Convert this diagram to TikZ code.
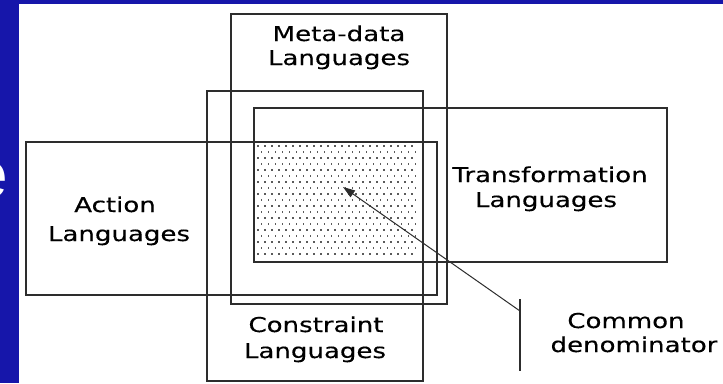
\documentclass[tikz,border=0pt]{standalone}
\usepackage{fontspec}
\usetikzlibrary{arrows.meta}
\newfontfamily\labelfont[FakeStretch=1.27,FakeBold=0.35]{DejaVu Sans}
\newfontfamily\titlefont{Liberation Sans}
\definecolor{slideblue}{RGB}{22,22,170}
\definecolor{edgegray}{RGB}{45,45,45}
\definecolor{dotgray}{RGB}{90,90,90}

\begin{document}
\begin{tikzpicture}[x=1pt,y=-1pt,
  box/.style={draw=edgegray, line width=1.2pt},
  lbl/.style={font=\labelfont\fontsize{20.5}{24}\selectfont, anchor=base, inner sep=0pt, text=black},
  ]
\useasboundingbox (0,0) rectangle (723,383);
% slide background and white panel
\fill[slideblue] (0,0) rectangle (723,383);
\fill[white] (19,4) rectangle (723,383);
\begin{scope}
  \clip (0,0) rectangle (19,383);
  \node[font=\titlefont\fontsize{66}{70}\selectfont, text=white, anchor=base west, inner sep=0pt] (cut) at (-29,197) {e};
\end{scope}

% dotted common region (intersection of all four boxes)
\foreach \r in {0,...,18}{
  \pgfmathsetmacro\yy{146+6*\r}
  \pgfmathsetmacro\xo{258+3.5*mod(\r,2)}
  \foreach \c in {0,...,22}{
    \pgfmathsetmacro\xx{\xo+7*\c}
    \fill[dotgray] (\xx-0.6,\yy-0.6) rectangle ++(1.2,1.2);
  }
}

% the four language boxes
\draw[box] (231,14) rectangle (447,304);
\draw[box] (207,91) rectangle (423,381);
\draw[box] (254,108) rectangle (667,262);
\draw[box] (26,142) rectangle (437,295);

% labels
\node[lbl] (metaA) at (339,41) {Meta-data};
\node[lbl] (metaB) at (339,65) {Languages};
\node[lbl] (transA) at (550,182) {Transformation};
\node[lbl] (transB) at (546,207) {Languages};
\node[lbl] (actA) at (115,212) {Action};
\node[lbl] (actB) at (119,241) {Languages};
\node[lbl] (consA) at (316,332) {Constraint};
\node[lbl] (consB) at (315,358) {Languages};
\node[lbl] (comA) at (626,328) {Common};
\node[lbl] (comB) at (634,352) {denominator};

% pointer to the common denominator
\coordinate (tickT) at (520,299);
\coordinate (tickB) at (520,371);
\coordinate (foot) at (520,311);
\coordinate (tip) at (343,187);
\draw[edgegray, line width=1.2pt] (tickT) -- (tickB);
\draw[edgegray, line width=1pt, -{Triangle[length=12pt,width=8pt]}] (foot) -- (tip);
\end{tikzpicture}
\end{document}
